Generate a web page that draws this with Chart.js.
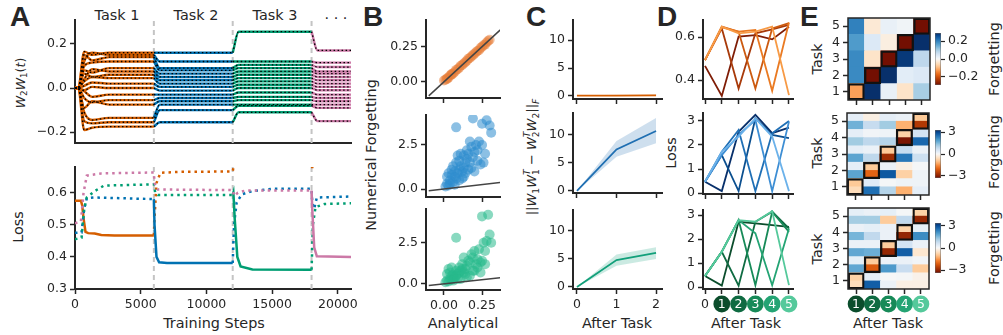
<!DOCTYPE html>
<html>
<head>
<meta charset="utf-8">
<title>Forgetting figure</title>
<script src="https://cdn.jsdelivr.net/npm/chart.js@4.4.1/dist/chart.umd.min.js"></script>
<style>
  html, body { margin: 0; padding: 0; background: #fff; }
  #fig { position: relative; width: 1003px; height: 335px; overflow: hidden; font-family: 'DejaVu Sans', sans-serif; color: #262626; }
  #fig canvas { position: absolute; }
  .t { position: absolute; white-space: nowrap; font-size: 14.4px; line-height: 1; transform: translate(-50%, -50%); }
  .r { transform: translate(-50%, -50%) rotate(-90deg); }
  .L { position: absolute; font-family: 'Liberation Sans', Arial, sans-serif; font-weight: bold; font-size: 28px; line-height: 1; }
  .m sub { font-size: 0.7em; vertical-align: -0.3em; }
  .ss { display: inline-block; vertical-align: middle; font-size: 0.7em; line-height: 0.95; margin-top: -2px; }
  .ss span { display: block; }
</style>
</head>
<body>
<div id="fig">
  <div class="L" style="left:10px;top:3px">A</div>
  <div class="L" style="left:363px;top:3px">B</div>
  <div class="L" style="left:526px;top:3px">C</div>
  <div class="L" style="left:657px;top:3px">D</div>
  <div class="L" style="left:800px;top:3px">E</div>

  <div class="t" style="left:117px;top:15px">Task 1</div>
  <div class="t" style="left:196px;top:15px">Task 2</div>
  <div class="t" style="left:275px;top:15px">Task 3</div>
  <div class="t" style="left:336px;top:14px">. . .</div>

  <div class="t r m" style="left:22px;top:83px;font-size:12.5px"><i>W</i><sub>2</sub><i>W</i><sub>1</sub>(<i>t</i>)</div>
  <div class="t r" style="left:18px;top:227px">Loss</div>
  <div class="t" style="left:214px;top:323px">Training Steps</div>

  <div class="t r" style="left:371px;top:155px">Numerical Forgetting</div>
  <div class="t" style="left:463px;top:323px">Analytical</div>

  <div class="t r m" style="left:533px;top:157px;font-size:13px">||<i>W</i><sub>1</sub><i>W</i><span class="ss"><span><i>T</i></span><span>1</span></span> &minus; <i>W</i><span class="ss"><span><i>T</i></span><span>2</span></span><i>W</i><sub>2</sub>||<sub><i>F</i></sub></div>
  <div class="t" style="left:617px;top:323px">After Task</div>

  <div class="t r" style="left:671px;top:153px">Loss</div>
  <div class="t" style="left:746px;top:323px">After Task</div>

  <div class="t r" style="left:817px;top:59px">Task</div>
  <div class="t r" style="left:817px;top:153px">Task</div>
  <div class="t r" style="left:817px;top:249px">Task</div>
  <div class="t r" style="left:994px;top:59px">Forgetting</div>
  <div class="t r" style="left:994px;top:152px">Forgetting</div>
  <div class="t r" style="left:994px;top:248px">Forgetting</div>
  <div class="t" style="left:888px;top:323px">After Task</div>
</div>

<script>
// ---------------- data ----------------

// A: task boundaries (training steps)
var taskBounds = [6000, 12000, 18000];
var aSteps = [0, 6000, 12000, 18000, 21000];

// A top: W2W1(t) entries, plateau level of each line per task
var aEarly = [0.165, 0.120, 0.150, 0.100, 0.080, 0.040, 0.065, 0.030, 0.010, -0.010, -0.015, -0.045, -0.090, -0.110, -0.150, -0.190];
var aBump  = [0.150, 0.160, 0.125, 0.115, 0.070, 0.085, 0.050, 0.050, 0.025, 0.005, -0.040, -0.065, -0.060, -0.145, -0.160, -0.180];
var aTask1 = [0.160, 0.150, 0.140, 0.120, 0.090, 0.075, 0.060, 0.045, 0.020, 0.000, -0.030, -0.055, -0.075, -0.135, -0.155, -0.175];
var aTask2 = [0.160, 0.120, 0.090, 0.080, 0.065, 0.050, 0.035, 0.020, 0.005, -0.012, -0.030, -0.045, -0.060, -0.075, -0.100, -0.155];
var aTask3 = [0.255, 0.120, 0.105, 0.090, 0.075, 0.060, 0.045, 0.030, 0.015, 0.000, -0.020, -0.040, -0.055, -0.075, -0.080, -0.110];
var aTask4 = [0.170, 0.115, 0.095, 0.075, 0.065, 0.050, 0.035, 0.020, 0.005, -0.010, -0.030, -0.045, -0.060, -0.075, -0.090, -0.150];

// A bottom: loss of each task over training, [step, loss]
var lossTask1 = [[0,0.575],[450,0.575],[550,0.56],[650,0.52],[800,0.478],[1000,0.474],[1500,0.473],[2000,0.468],[3000,0.467],[6000,0.467],
  [6050,0.52],[6200,0.63],[6500,0.662],[8000,0.665],[12000,0.666],[12100,0.69],[12300,0.75],[17950,0.75],[18050,0.676],[18150,0.75],[21000,0.75]];
var lossTask2 = [[0,0.475],[500,0.476],[700,0.55],[900,0.583],[1500,0.585],[6000,0.58],
  [6050,0.5],[6200,0.40],[6400,0.383],[7000,0.381],[12000,0.381],[12100,0.50],[12300,0.57],[12700,0.595],[13500,0.605],[15000,0.612],[18000,0.612],
  [18050,0.57],[18200,0.55],[18400,0.585],[21000,0.588]];
var lossTask3 = [[0,0.455],[500,0.46],[700,0.55],[900,0.585],[1500,0.605],[2200,0.622],[6000,0.626],[6100,0.60],[6300,0.593],[12000,0.593],
  [12050,0.60],[12150,0.52],[12350,0.40],[12600,0.37],[13500,0.361],[18000,0.36],[18100,0.50],[18300,0.555],[19000,0.565],[21000,0.567]];
var lossTask4 = [[0,0.505],[450,0.51],[650,0.60],[900,0.653],[2000,0.66],[6000,0.663],[6050,0.63],[6300,0.61],[12000,0.608],[12100,0.59],
  [12400,0.60],[13000,0.607],[18000,0.607],[18050,0.55],[18200,0.43],[18400,0.402],[21000,0.40]];

// B: analytical vs numerical forgetting
var bAnalytic1 = [0.00,0.01,0.02,0.02,0.03,0.04,0.05,0.05,0.06,0.07,0.08,0.09,0.10,0.11,0.12,0.13,0.14,0.15,0.16,0.17,0.18,0.19,0.20,0.21,0.22,0.23,0.24,0.25,0.26,0.27,0.28,0.29,0.30];
var bNumeric1  = [0.01,0.015,0.02,0.025,0.03,0.045,0.05,0.055,0.06,0.07,0.085,0.09,0.10,0.115,0.12,0.13,0.14,0.15,0.165,0.17,0.18,0.19,0.20,0.21,0.22,0.225,0.24,0.25,0.26,0.265,0.28,0.29,0.30];
var bAnalytic2 = [0.01,0.02,0.03,0.02,0.04,0.05,0.06,0.07,0.08,0.03,0.05,0.07,0.09,0.10,0.06,0.08,0.10,0.11,0.12,0.13,0.14,0.09,0.11,0.13,0.15,0.16,0.17,0.18,0.15,0.19,0.20,0.18,0.21,0.22,0.23,0.24,0.25,0.26,0.27,0.12,0.14,0.16,0.08,0.19,0.25,0.28,0.30,0.31,0.04,0.10,0.20,0.17,0.22,0.07,0.13];
var bNumeric2  = [0.15,0.30,0.20,0.70,0.50,0.80,0.40,0.70,0.60,0.90,1.10,1.00,0.90,1.10,1.30,1.50,1.60,1.30,1.00,1.20,1.50,1.90,2.00,1.90,1.70,2.00,1.50,1.20,2.20,1.80,2.10,2.40,2.50,1.60,2.70,1.40,2.50,1.50,2.00,0.60,0.90,1.10,3.50,4.00,3.70,3.90,3.60,3.20,0.30,0.50,1.00,2.70,2.20,0.25,0.70];
var bAnalytic3 = [0.01,0.02,0.03,0.04,0.05,0.06,0.07,0.08,0.02,0.04,0.06,0.08,0.10,0.03,0.05,0.07,0.09,0.11,0.12,0.13,0.10,0.12,0.14,0.15,0.16,0.17,0.18,0.19,0.20,0.21,0.22,0.23,0.24,0.25,0.26,0.27,0.28,0.30,0.31,0.25,0.29,0.08,0.05,0.11,0.14,0.17,0.19,0.22,0.06,0.09,0.15,0.20,0.24,0.27,0.13];
var bNumeric3  = [0.10,0.20,0.15,0.30,0.25,0.40,0.35,0.50,0.60,0.70,0.55,0.80,0.70,0.90,0.50,0.45,0.60,0.80,0.90,0.70,1.00,1.20,0.90,1.10,1.40,1.30,1.80,1.60,2.00,1.20,1.50,2.10,1.30,1.40,2.50,2.00,2.60,3.00,2.50,4.10,4.20,2.80,1.00,0.30,0.60,0.50,0.80,1.00,0.20,0.30,0.40,0.80,0.70,1.20,1.60];
var identityX = [-0.1, 0.37];

// C: imbalance norm after each task, mean and band
var cTasks = [0, 1, 2];
var cMean1 = [0.05, 0.08, 0.10], cLow1 = [0.0, 0.0, 0.0], cHigh1 = [0.1, 0.2, 0.25];
var cMean2 = [0.0, 7.4, 10.7],  cLow2 = [0.0, 6.1, 8.5], cHigh2 = [0.0, 8.9, 13.0];
var cMean3 = [0.0, 4.8, 6.1],   cLow3 = [0.0, 3.8, 5.0], cHigh3 = [0.0, 5.8, 7.1];

// D: loss of each task after each task
var dAfter = [0, 1, 2, 3, 4, 5];
var dTop = [
  [0.466, 0.326, 0.602, 0.609, 0.589, 0.648],
  [0.493, 0.640, 0.361, 0.617, 0.636, 0.656],
  [0.493, 0.648, 0.625, 0.361, 0.640, 0.664],
  [0.493, 0.645, 0.625, 0.633, 0.350, 0.667],
  [0.493, 0.648, 0.617, 0.625, 0.648, 0.330]];
var dMid = [
  [0.47, 0.08, 2.55, 3.25, 2.49, 2.72],
  [0.47, 1.58, 0.08, 3.11, 2.42, 2.28],
  [0.47, 1.72, 2.62, 0.08, 2.49, 3.00],
  [0.47, 1.58, 2.42, 3.04, 0.08, 2.97],
  [0.47, 1.72, 2.35, 3.11, 2.35, 0.08]];
var dBot = [
  [0.46, 0.06, 2.72, 2.65, 2.58, 2.51],
  [0.46, 1.47, 0.06, 2.72, 3.14, 2.44],
  [0.46, 1.47, 2.79, 0.08, 3.14, 2.30],
  [0.46, 1.47, 2.79, 2.24, 0.08, 2.44],
  [0.46, 1.47, 2.79, 2.72, 3.16, 0.08]];

// E: forgetting matrices (rows bottom->top, columns = after task 1..5)
var eCols = ['1', '2', '3', '4', '5'];
var eTop = [
  [-0.12, 0.30, 0.02, -0.04, 0.10],
  [0.19, -0.30, 0.30, 0.03, 0.04],
  [0.19, -0.04, -0.30, 0.28, 0.08],
  [0.17, 0.04, -0.02, -0.30, 0.30],
  [0.20, -0.03, 0.02, 0.01, -0.30]];
var eMid = [
  [-0.6, 2.5, 1.0, -1.2, 0.3],
  [-0.9, 0.4, 0.05, 0.15, 0.15],
  [1.8, -2.0, 2.8, -0.8, 0.15],
  [0.3, -0.9, 0.2, -0.2, 0.05],
  [1.8, 0.9, -2.8, 2.4, 0.7],
  [0.3, 0.2, -0.9, 0.8, 0.2],
  [1.2, 0.9, 1.0, -3.2, 2.6],
  [0.3, 0.1, 0.15, -0.8, 0.6],
  [1.6, 0.8, 1.2, -1.2, -2.6],
  [0.3, -0.2, 0.3, 0.2, -0.9]];
var eBot = [
  [-0.6, 2.8, 0.2, -0.2, -0.2],
  [-0.8, 0.3, 0.0, 0.05, -0.15],
  [1.8, -2.2, 2.0, 0.8, -0.9],
  [0.3, -0.9, 0.2, 0.2, 0.1],
  [1.8, 1.7, -3.0, 2.8, -0.4],
  [0.2, 0.2, -0.9, 0.6, 0.2],
  [1.6, 0.9, 0.2, -3.0, 2.2],
  [0.2, 0.3, 0.2, -0.8, 0.3],
  [1.2, 1.2, -0.9, 0.9, -3.0],
  [0.3, 0.2, 0.3, 0.05, -0.8]];

// ---------------- styles ----------------
var INK = '#262626';
var taskColors = ['#d55e00', '#0072b2', '#009e73', '#cc79a7'];
var orangeShades = ['#7f1d06', '#a83a0a', '#cc5a10', '#ea7a22', '#f79a45'];
var blueShades = ['#08306b', '#0b4f8f', '#1f6fb5', '#3d8ed4', '#6cb2ea'];
var greenShades = ['#0b4d2c', '#0f6b42', '#178a58', '#24a474', '#55c99b'];
var NEG_STOPS = [[247,247,247],[253,230,206],[253,208,162],[253,174,107],[245,130,50],[225,95,15],[190,65,5],[150,40,3],[115,15,2]];
var POS_STOPS = [[247,247,247],[222,235,247],[198,219,239],[158,202,225],[107,174,214],[66,146,198],[33,113,181],[8,81,156],[8,48,107]];

Chart.defaults.font.family = "'DejaVu Sans', sans-serif";
Chart.defaults.font.size = 12.5;
Chart.defaults.color = INK;
Chart.defaults.animation = false;
Chart.defaults.elements.point.radius = 0;

var fig = document.getElementById('fig');

function cmap(t) {
  t = Math.max(-1, Math.min(1, t));
  var st = t < 0 ? NEG_STOPS : POS_STOPS;
  var a = Math.abs(t) * 8, i = Math.min(7, Math.floor(a)), f = a - i;
  var c0 = st[i], c1 = st[i + 1];
  return 'rgb(' + [0, 1, 2].map(function (k) { return Math.round(c0[k] + (c1[k] - c0[k]) * f); }).join(',') + ')';
}

function fmt(n) {
  return function (v) { return (v < -1e-9 ? '\u2212' : '') + Math.abs(v).toFixed(n); };
}

function linScale(min, max, ticks, labelFn, drawTicks) {
  return {
    type: 'linear', min: min, max: max,
    afterBuildTicks: function (s) { s.ticks = ticks.map(function (v) { return {value: v}; }); },
    ticks: {callback: function (v) { return labelFn ? labelFn(v) : ''; }, padding: 3, maxRotation: 0, autoSkip: false},
    grid: {drawOnChartArea: false, drawTicks: drawTicks !== false, tickLength: 5, tickWidth: 1.5, tickColor: INK},
    border: {color: INK, width: 2}
  };
}

// place a chart so that its plot area lands on area {l,t,r,b}
function makeChart(area, type, data, scales, pluginOpts, plugins, rightAxis) {
  var mL = 50, mT = 12, mR = rightAxis ? 70 : 26, mB = 34, yW = 45, xH = 27;
  var cv = document.createElement('canvas');
  var w = area.r - area.l + mL + mR, h = area.b - area.t + mT + mB;
  cv.width = w; cv.height = h;
  cv.style.left = (area.l - mL) + 'px';
  cv.style.top = (area.t - mT) + 'px';
  cv.style.width = w + 'px';
  cv.style.height = h + 'px';
  fig.appendChild(cv);
  var pad;
  if (rightAxis) {
    scales.y.afterFit = function (s) { s.width = yW; };
    pad = {left: mL, top: mT, right: mR - yW, bottom: mB};
  } else {
    scales.x.afterFit = function (s) { s.height = xH; };
    scales.y.afterFit = function (s) { s.width = yW; };
    pad = {left: mL - yW, top: mT, right: mR, bottom: mB - xH};
  }
  var p = {legend: {display: false}, tooltip: {enabled: false}};
  for (var k in (pluginOpts || {})) p[k] = pluginOpts[k];
  return new Chart(cv, {
    type: type,
    data: data,
    options: {responsive: false, animation: false, layout: {padding: pad}, scales: scales, plugins: p},
    plugins: plugins || []
  });
}

function sepSets(min, max) {
  return taskBounds.map(function (x) {
    return {data: [{x: x, y: min}, {x: x, y: max}], borderColor: '#c4c4c4', borderWidth: 2, borderDash: [5, 4], order: 10};
  });
}

// tick labels drawn as numbered discs under the x axis
var discTicks = {
  id: 'discTicks',
  afterDraw: function (chart, args, o) {
    var c = chart.ctx, sx = chart.scales.x, yc = chart.chartArea.bottom + 15;
    o.values.forEach(function (v, i) {
      var x = sx.getPixelForValue(v);
      c.save();
      c.beginPath();
      c.arc(x, yc, 8.4, 0, Math.PI * 2);
      c.fillStyle = o.colors[i];
      c.fill();
      c.fillStyle = '#fff';
      c.font = "12.5px 'DejaVu Sans', sans-serif";
      c.textAlign = 'center';
      c.textBaseline = 'middle';
      c.fillText(o.labels[i], x, yc + 0.5);
      c.restore();
    });
  }
};

var frame = {
  id: 'frame',
  afterDraw: function (chart) {
    var a = chart.chartArea, c = chart.ctx;
    c.save();
    c.strokeStyle = INK;
    c.lineWidth = 1.5;
    c.strokeRect(a.left, a.top, a.right - a.left, a.bottom - a.top);
    c.restore();
  }
};

// ---------------- A top ----------------
(function () {
  var levels = [aTask1, aTask2, aTask3, aTask4];
  var sets = sepSets(-0.249, 0.308);
  levels.forEach(function (lv, k) {
    var s = aSteps[k], e = aSteps[k + 1];
    lv.forEach(function (v, i) {
      var pts;
      if (k === 0) {
        pts = [{x: 0, y: 0}, {x: 250, y: 0}, {x: 700, y: aEarly[i]}, {x: 1300, y: aBump[i]}, {x: 2600, y: v}, {x: e, y: v}];
      } else {
        pts = [{x: s, y: levels[k - 1][i]}, {x: s + 450, y: v}, {x: e, y: v}];
      }
      sets.push({data: pts, borderColor: taskColors[k], borderWidth: 2.4, cubicInterpolationMode: 'monotone', order: 2});
      sets.push({data: pts, borderColor: '#000', borderWidth: 1.3, borderDash: [1.5, 2.5], cubicInterpolationMode: 'monotone', order: 1});
    });
  });
  var x = linScale(0, 21000, [0, 5000, 10000, 15000, 20000], null, false);
  x.ticks.display = false;
  makeChart({l: 75, t: 20, r: 351, b: 143}, 'line', {datasets: sets},
    {x: x, y: linScale(-0.249, 0.308, [-0.2, 0, 0.2], fmt(1))});
})();

// ---------------- A bottom ----------------
(function () {
  var sets = sepSets(0.3, 0.68);
  [lossTask1, lossTask2, lossTask3, lossTask4].forEach(function (arr, k) {
    var s = aSteps[k], e = aSteps[k + 1];
    sets.push({
      data: arr.map(function (p) { return {x: p[0], y: p[1]}; }),
      borderColor: taskColors[k], borderWidth: 2.5, order: 3 - k,
      segment: {
        borderDash: function (ctx) {
          return (ctx.p0.parsed.x >= s && ctx.p1.parsed.x <= e) ? undefined : [2.5, 4];
        }
      }
    });
  });
  makeChart({l: 75, t: 167, r: 351, b: 289}, 'line', {datasets: sets},
    {x: linScale(0, 21000, [0, 5000, 10000, 15000, 20000], function (v) { return String(v); }),
     y: linScale(0.3, 0.68, [0.3, 0.4, 0.5, 0.6], fmt(1))});
})();

// ---------------- B ----------------
function bPanel(area, xs, ys, color, ymin, ymax, yt, yfmt, showX) {
  var pts = xs.map(function (v, i) { return {x: v, y: ys[i]}; });
  makeChart(area, 'scatter', {datasets: [
    {data: identityX.map(function (v) { return {x: v, y: v}; }), showLine: true, borderColor: '#444', borderWidth: 1.5, pointRadius: 0},
    {data: pts, backgroundColor: color, borderWidth: 0, pointRadius: 5}
  ]}, {
    x: linScale(-0.118, 0.368, [0, 0.25], showX ? fmt(2) : null),
    y: linScale(ymin, ymax, yt, yfmt)
  });
}
bPanel({l: 426, t: 20, r: 500, b: 98}, bAnalytic1, bNumeric1, 'rgba(232,125,55,0.5)', -0.115, 0.44, [0, 0.25], fmt(2), false);
bPanel({l: 426, t: 115, r: 500, b: 197}, bAnalytic2, bNumeric2, 'rgba(45,140,205,0.55)', -0.45, 4.2, [0, 2.5], fmt(1), false);
bPanel({l: 426, t: 209, r: 500, b: 290}, bAnalytic3, bNumeric3, 'rgba(40,185,140,0.55)', -0.37, 4.55, [0, 2.5], fmt(1), true);

// ---------------- C ----------------
function cPanel(area, mean, low, high, color, fill, ymin, ymax, showX) {
  function pts(a) { return cTasks.map(function (t, i) { return {x: t, y: a[i]}; }); }
  makeChart(area, 'line', {datasets: [
    {data: pts(mean), borderColor: color, borderWidth: 1.8},
    {data: pts(high), borderWidth: 0, borderColor: 'rgba(0,0,0,0)', backgroundColor: fill, fill: '+1'},
    {data: pts(low), borderWidth: 0, borderColor: 'rgba(0,0,0,0)'}
  ]}, {
    x: linScale(-0.1, 2.15, [0, 1, 2], showX ? function (v) { return String(v); } : null),
    y: linScale(ymin, ymax, [0, 5, 10], function (v) { return String(v); })
  });
}
cPanel({l: 573, t: 20, r: 662, b: 99}, cMean1, cLow1, cHigh1, '#d55e00', 'rgba(213,94,0,0.2)', -0.54, 13.6, false);
cPanel({l: 573, t: 113, r: 662, b: 193}, cMean2, cLow2, cHigh2, '#1f6fb2', 'rgba(31,111,178,0.22)', -0.36, 13.9, false);
cPanel({l: 573, t: 210, r: 662, b: 289}, cMean3, cLow3, cHigh3, '#12a07a', 'rgba(18,160,122,0.22)', -0.36, 13.75, true);

// ---------------- D ----------------
function dPanel(area, rows, shades, ymin, ymax, yt, yfmt, bottom) {
  var sets = rows.map(function (r, k) {
    return {data: dAfter.map(function (t, i) { return {x: t, y: r[i]}; }), borderColor: shades[k], borderWidth: 1.8, order: 5 - k};
  });
  var popts = bottom ? {discTicks: {values: [1, 2, 3, 4, 5], labels: ['1', '2', '3', '4', '5'], colors: greenShades}} : {};
  makeChart(area, 'line', {datasets: sets}, {
    x: linScale(-0.12, 5.24, dAfter, bottom ? function (v) { return v === 0 ? '0' : ''; } : null),
    y: linScale(ymin, ymax, yt, yfmt)
  }, popts, bottom ? [discTicks] : []);
}
dPanel({l: 703, t: 20, r: 793, b: 99}, dTop, orangeShades, 0.312, 0.679, [0.4, 0.6], fmt(1), false);
dPanel({l: 703, t: 113, r: 793, b: 194}, dMid, blueShades, -0.04, 3.33, [0, 1, 2, 3], function (v) { return String(v); }, false);
dPanel({l: 703, t: 210, r: 793, b: 289}, dBot, greenShades, -0.08, 3.21, [0, 1, 2, 3], function (v) { return String(v); }, true);

// ---------------- E ----------------
function ePanel(area, rows, vmax, perTask, bottom) {
  var n = rows.length;
  var sets = rows.map(function (r, ri) {
    return {
      data: r.map(function () { return [ri, ri + 1]; }),
      backgroundColor: r.map(function (v) { return cmap(v / vmax); }),
      borderWidth: 0, grouped: false, barPercentage: 1, categoryPercentage: 1, order: 2
    };
  });
  sets.push({
    data: eCols.map(function (c, i) { return [i * perTask, (i + 1) * perTask]; }),
    backgroundColor: 'rgba(0,0,0,0)', borderColor: '#111', borderWidth: 1.6, borderSkipped: false,
    grouped: false, barPercentage: 1, categoryPercentage: 1, order: 1
  });
  var yt = eCols.map(function (c, i) { return (i + 0.5) * perTask; });
  var y = linScale(0, n, yt, function (v) { return String(Math.round(v / perTask + 0.5)); });
  y.border = {display: false};
  var x = {
    type: 'category', offset: true,
    ticks: {callback: function () { return ''; }, padding: 3},
    grid: {offset: false, drawOnChartArea: false, drawTicks: true, tickLength: 5, tickWidth: 1.5, tickColor: INK},
    border: {display: false}
  };
  var popts = bottom ? {discTicks: {values: [0, 1, 2, 3, 4], labels: eCols, colors: greenShades}} : {};
  makeChart(area, 'bar', {labels: eCols, datasets: sets}, {x: x, y: y}, popts, bottom ? [frame, discTicks] : [frame]);
}
ePanel({l: 848, t: 18, r: 930, b: 100}, eTop, 0.29, 1, false);
ePanel({l: 847, t: 113, r: 929, b: 195}, eMid, 3.3, 2, false);
ePanel({l: 848, t: 208, r: 929, b: 289}, eBot, 3.4, 2, true);

// colorbars
function colorbar(area, vmax, ticks, f) {
  var y = linScale(-vmax, vmax, ticks, f);
  y.position = 'right';
  y.border = {display: false};
  y.grid.tickLength = 4;
  y.grid.tickWidth = 1.2;
  makeChart(area, 'bar', {labels: [''], datasets: [{
    data: [[-vmax, vmax]],
    backgroundColor: function (ctx) {
      var a = ctx.chart.chartArea;
      if (!a) return '#fff';
      var g = ctx.chart.ctx.createLinearGradient(0, a.bottom, 0, a.top);
      for (var i = 0; i <= 20; i++) g.addColorStop(i / 20, cmap(-1 + i / 10));
      return g;
    },
    borderColor: '#666', borderWidth: 0.8, borderSkipped: false, barPercentage: 1, categoryPercentage: 1
  }]}, {x: {display: false}, y: y}, {}, [], true);
}
colorbar({l: 935, t: 33, r: 941, b: 85}, 0.29, [-0.2, 0, 0.2], fmt(1));
colorbar({l: 935, t: 130, r: 941, b: 178}, 3.3, [-3, 0, 3], fmt(0));
colorbar({l: 935, t: 223, r: 941, b: 273}, 3.4, [-3, 0, 3], fmt(0));
</script>
</body>
</html>
